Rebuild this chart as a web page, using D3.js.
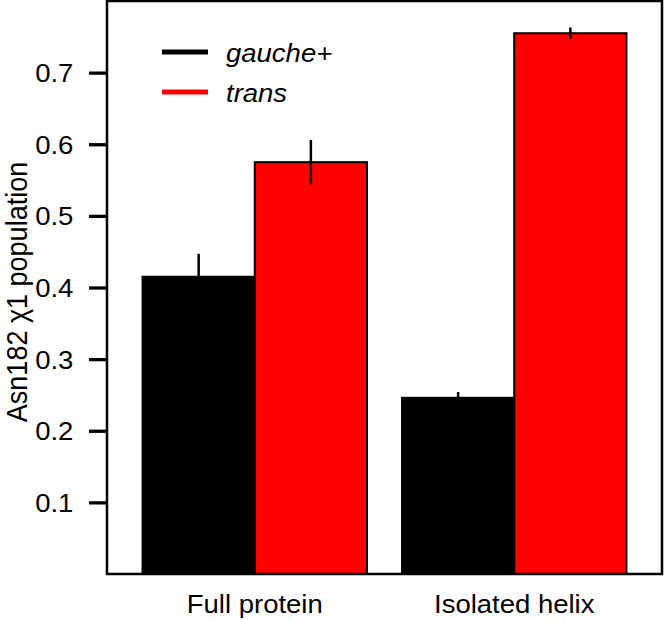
<!DOCTYPE html>
<html>
<head>
<meta charset="utf-8">
<script src="https://cdn.jsdelivr.net/npm/d3@7"></script>
<style>
  html, body { margin: 0; padding: 0; background: #fff; }
  svg { display: block; font-family: "Liberation Sans", Arial, sans-serif; }
</style>
</head>
<body>
<svg id="chart" width="664" height="620"></svg>
<script>
/* Asn182 chi1 populations, grouped bars with error bars */

const categories = ['Full protein', 'Isolated helix'];
const series     = ['gauche+', 'trans'];
const colors     = ['#000000', '#ff0000'];
const values     = [[0.415, 0.575], [0.246, 0.755]];   // [category][series]
const errors     = [[0.032, 0.031], [0.008, 0.008]];
const yTicks     = [0.1, 0.2, 0.3, 0.4, 0.5, 0.6, 0.7];

const plot = { left: 107, right: 662, top: 1, bottom: 574 };
const SX = 1.1;   // the reference text is slightly wide

const svg = d3.select('#chart');

const x0 = d3.scaleBand().domain(categories)
  .range([plot.left, plot.right]).paddingInner(0.135).paddingOuter(0.137);
const x1 = d3.scaleBand().domain(series).range([0, x0.bandwidth()]);
const y  = d3.scaleLinear().domain([0, 0.8]).range([plot.bottom, plot.top]);

/* ---- bars ----------------------------------------------------------------- */
const rows = [];
categories.forEach((c, ci) => series.forEach((s, si) => {
  rows.push({ c, s, si, v: values[ci][si], e: errors[ci][si] });
}));

const gBars = svg.append('g');
gBars.selectAll('rect').data(rows).enter().append('rect')
  .attr('x', d => x0(d.c) + x1(d.s))
  .attr('y', d => y(d.v))
  .attr('width', x1.bandwidth())
  .attr('height', d => y(0) - y(d.v))
  .attr('fill', d => colors[d.si])
  .attr('stroke', '#000')
  .attr('stroke-width', 2);

gBars.selectAll('line.err').data(rows).enter().append('line')
  .attr('class', 'err')
  .attr('x1', d => x0(d.c) + x1(d.s) + x1.bandwidth() / 2)
  .attr('x2', d => x0(d.c) + x1(d.s) + x1.bandwidth() / 2)
  .attr('y1', d => y(d.v - d.e))
  .attr('y2', d => y(d.v + d.e))
  .attr('stroke', '#000')
  .attr('stroke-width', 2.5);

/* ---- frame + axes --------------------------------------------------------- */
svg.append('rect')
  .attr('x', plot.left).attr('y', plot.top)
  .attr('width', plot.right - plot.left).attr('height', plot.bottom - plot.top)
  .attr('fill', 'none').attr('stroke', '#000').attr('stroke-width', 2.5);

const yAxis = svg.append('g')
  .attr('transform', `translate(${plot.left},0)`)
  .call(d3.axisLeft(y).tickValues(yTicks).tickSize(18).tickPadding(10)
    .tickFormat(d3.format('.1f')));
yAxis.attr('font-family', null);
yAxis.select('.domain').remove();
yAxis.selectAll('.tick line').attr('stroke', '#000').attr('stroke-width', 3.3);
yAxis.selectAll('.tick text')
  .attr('font-size', 25).attr('fill', '#000')
  .attr('dy', '0.36em')
  .attr('transform', function () {
    const xx = +d3.select(this).attr('x');
    return `translate(${xx * (SX - 1)},0) scale(${SX},1)`;
  });

// x labels
svg.append('g').selectAll('text').data(categories).enter().append('text')
  .attr('transform', d => `translate(${x0(d) + x0.bandwidth() / 2},613) scale(${SX},1)`)
  .attr('text-anchor', 'middle')
  .attr('font-size', 25)
  .text(d => d);

// y label
svg.append('text')
  .attr('transform', `translate(27,292) scale(${SX},1) rotate(-90)`)
  .attr('text-anchor', 'middle')
  .attr('font-size', 27)
  .text('Asn182 χ1 population');

/* ---- legend --------------------------------------------------------------- */
const legY = d3.scaleBand().domain(series).range([32, 112]);
const leg = svg.append('g').selectAll('g').data(series).enter().append('g')
  .attr('transform', d => `translate(0,${legY(d) + legY.bandwidth() / 2})`);
leg.append('line')
  .attr('x1', 162).attr('x2', 208).attr('y1', 0).attr('y2', 0)
  .attr('stroke', (d, i) => colors[i]).attr('stroke-width', 5);
leg.append('text')
  .attr('transform', `translate(226,10) scale(${SX},1)`)
  .attr('font-size', 25).attr('font-style', 'italic')
  .text(d => d);
</script>
</body>
</html>
